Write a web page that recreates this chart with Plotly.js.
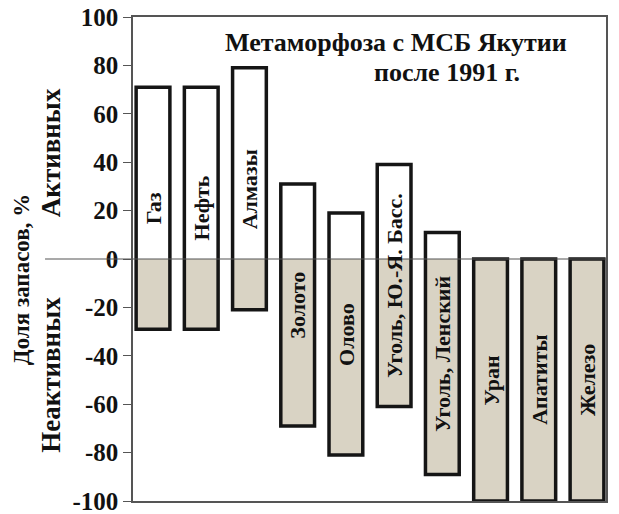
<!DOCTYPE html>
<html><head><meta charset="utf-8">
<script src="https://cdn.plot.ly/plotly-3.0.1.min.js"></script>
<style>html,body{margin:0;padding:0;background:#fff}#chart{width:619px;height:514px}</style>
</head><body><div id="chart"></div>
<script>
const categories = ["Газ","Нефть","Алмазы","Золото","Олово","Уголь, Ю.-Я. Басс.","Уголь, Ленский","Уран","Апатиты","Железо"];
const activeShare = [71,71,79,31,19,39,11,0,0,0];
const inactiveShare = [-29,-29,-21,-69,-81,-61,-89,-100,-100,-100];
const yTicks = [-100,-80,-60,-40,-20,0,20,40,60,80,100];
const titleLines = ["Метаморфоза с МСБ Якутии","после 1991 г."];
const yTitle = "Доля запасов, %";
const yTitleUp = "Активных";
const yTitleDown = "Неактивных";

const idx = categories.map((c,i)=>i);
const FAM = "Liberation Serif";
const barW = 0.7;

const traces = [
  {type:'bar', x:idx, y:activeShare, base:0, width:barW,
   marker:{color:'#ffffff', line:{width:0}}, hoverinfo:'skip'},
  {type:'bar', x:idx, y:inactiveShare, base:0, width:barW,
   marker:{color:'#d9d3c4', line:{width:0}}, hoverinfo:'skip'},
  {type:'bar', x:idx, y:activeShare.map((a,i)=>a-inactiveShare[i]), base:inactiveShare, width:barW,
   marker:{color:'rgba(0,0,0,0)', line:{width:3.5, color:'#151515'}}, hoverinfo:'skip'}
];

function f(size){ return {family:FAM, size:size, color:'#111', weight:700}; }

const annotations = categories.map((c,i)=>({
  x:i, y:(activeShare[i]+inactiveShare[i])/2, xref:'x', yref:'y',
  text:c, textangle:-90, showarrow:false, font:f(22)
}));
annotations.push(
  {xref:'paper', yref:'paper', x:0.19, y:0.948, xanchor:'left', yanchor:'middle', text:titleLines[0], showarrow:false, font:f(26)},
  {xref:'paper', yref:'paper', x:0.505, y:0.886, xanchor:'left', yanchor:'middle', text:titleLines[1], showarrow:false, font:f(26)},
  {xref:'paper', yref:'paper', x:-0.236, y:0.457, xanchor:'center', yanchor:'middle', text:yTitle, textangle:-90, showarrow:false, font:f(23)},
  {xref:'paper', yref:'paper', x:-0.173, y:0.719, xanchor:'center', yanchor:'middle', text:yTitleUp, textangle:-90, showarrow:false, font:f(27)},
  {xref:'paper', yref:'paper', x:-0.173, y:0.261, xanchor:'center', yanchor:'middle', text:yTitleDown, textangle:-90, showarrow:false, font:f(27)}
);

const layout = {
  width:619, height:514,
  margin:{l:133, r:13, t:17, b:13},
  paper_bgcolor:'#fff', plot_bgcolor:'#fff',
  font:{family:FAM, color:'#111'},
  barmode:'overlay', showlegend:false,
  xaxis:{range:[-0.415,9.394], showticklabels:false, ticks:'', showgrid:false, zeroline:false,
         showline:true, mirror:true, linecolor:'#555', linewidth:1.5, fixedrange:true},
  yaxis:{range:[-100,100], tickvals:yTicks, ticktext:yTicks.map(String), ticks:'outside', ticklen:8, tickcolor:'#555',
         showgrid:false, zeroline:false, showline:true, mirror:true, linecolor:'#555', linewidth:1.5,
         ticklabeloverflow:'allow', tickfont:f(25), fixedrange:true},
  shapes:[
    {type:'line', xref:'paper', yref:'y', x0:-0.186, x1:1, y0:0, y1:0, line:{color:'#555', width:1.2}, layer:'above'}
  ],
  annotations:annotations
};
Plotly.newPlot('chart', traces, layout, {displayModeBar:false});
</script></body></html>
